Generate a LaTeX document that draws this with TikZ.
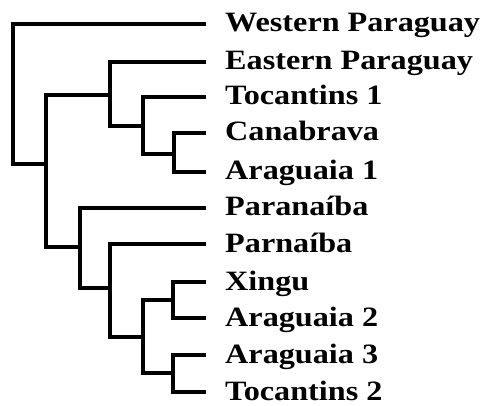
\documentclass[tikz,border=0pt]{standalone}
\usepackage{fontspec}
\setmainfont{Liberation Serif}
\begin{document}
\begin{tikzpicture}[x=1pt,y=-1pt,
  branch/.style={line width=4.6pt, line join=miter, line cap=butt},
  lbl/.style={anchor=base west, inner sep=0pt, font=\fontsize{28}{28}\selectfont\bfseries, xscale=1.15, transform shape}]
\useasboundingbox (0,0) rectangle (490,406);
% leaf tips
\coordinate (t1) at (206,24);
\coordinate (t2) at (206,62);
\coordinate (t3) at (206,97);
\coordinate (t4) at (206,133);
\coordinate (t5) at (206,172);
\coordinate (t6) at (206,208);
\coordinate (t7) at (206,244);
\coordinate (t8) at (206,282);
\coordinate (t9) at (206,318);
\coordinate (t10) at (206,355);
\coordinate (t11) at (206,392);
% labels
\node[lbl] (l1) at (225,32) {Western Paraguay};
\node[lbl] (l2) at (225,70) {Eastern Paraguay};
\node[lbl] (l3) at (225,105) {Tocantins 1};
\node[lbl] (l4) at (225,141) {Canabrava};
\node[lbl] (l5) at (225,180) {Araguaia 1};
\node[lbl] (l6) at (225,216) {Paranaíba};
\node[lbl] (l7) at (225,252) {Parnaíba};
\node[lbl] (l8) at (225,290) {Xingu};
\node[lbl] (l9) at (225,326) {Araguaia 2};
\node[lbl] (l10) at (225,363) {Araguaia 3};
\node[lbl] (l11) at (225,400) {Tocantins 2};
% internal nodes
\coordinate (r) at (13,94);
\coordinate (n2) at (46,164);
\coordinate (e1) at (110,95);
\coordinate (c1) at (143,126);
\coordinate (c2) at (174,154);
\coordinate (p1) at (80,247);
\coordinate (p2) at (110,288);
\coordinate (p3) at (143,337);
\coordinate (x1) at (173,300);
\coordinate (a3) at (173,373);
% brackets
\draw[branch] (t1) -| (r) |- (n2);
\draw[branch] (e1) -| (n2) |- (p1);
\draw[branch] (t2) -| (e1) |- (c1);
\draw[branch] (t3) -| (c1) |- (c2);
\draw[branch] (t4) -| (c2) |- (t5);
\draw[branch] (t6) -| (p1) |- (p2);
\draw[branch] (t7) -| (p2) |- (p3);
\draw[branch] (x1) -| (p3) |- (a3);
\draw[branch] (t8) -| (x1) |- (t9);
\draw[branch] (t10) -| (a3) |- (t11);
\end{tikzpicture}
\end{document}
